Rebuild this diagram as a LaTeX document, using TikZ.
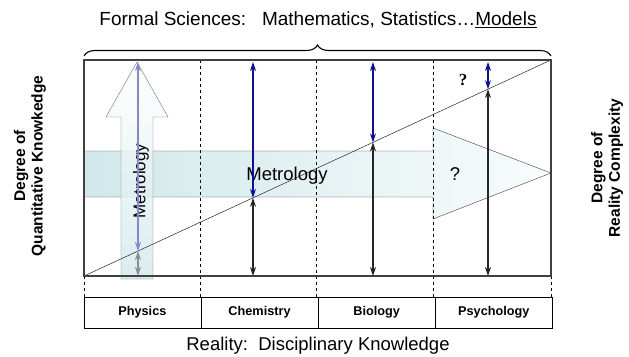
\documentclass[tikz,border=0pt]{standalone}
\usepackage{fontspec}
\setmainfont{Liberation Sans}
\newfontfamily\qfont{Liberation Serif}
\usetikzlibrary{arrows.meta,positioning,calc,decorations.pathreplacing}
\definecolor{metroteal}{rgb}{0.82,0.91,0.92}
\definecolor{arrblue}{rgb}{0.05,0.05,0.68}
\definecolor{boxgrey}{rgb}{0.25,0.25,0.25}

\begin{document}
\begin{tikzpicture}[x=1pt, y=-1pt,
  frame/.style={draw=boxgrey, line width=1.8pt},
  divider/.style={dashed, thin},
  cell/.style={rectangle, draw, thin, minimum width=116.75pt, minimum height=31pt,
               inner sep=0pt, font=\bfseries\fontsize{12.7}{15}\selectfont},
  side/.style={align=center, rotate=90, font=\bfseries\fontsize{15.5}{17.5}\selectfont},
  big/.style={font=\fontsize{18.5}{22}\selectfont},
  blu/.style={{Stealth[length=9pt,width=6pt]}-{Stealth[length=9pt,width=6pt]}, arrblue, line width=1.2pt},
  blk/.style={{Stealth[length=9pt,width=6pt]}-{Stealth[length=9pt,width=6pt]}, black!85, line width=1.2pt},
]
\useasboundingbox (0,0) rectangle (629,356);

% corners of the main frame
\coordinate (lo) at (84,276);
\coordinate (hi) at (551,60);
\coordinate (top) at (84,62);

% horizontal metrology band
\path[draw=black!75, left color=metroteal, right color=metroteal!15, thin]
  (84,151) -- (433,151) -- (433,128) -- (551,173) -- (433,219) -- (433,197) -- (84,197) -- cycle;
\node[big] (metro) at (287,176) {Metrology};
\node[big] (qmark) at (455,174) {?};

% vertical metrology arrow
\path[draw=black!55, top color=white, bottom color=metroteal, fill opacity=0.8, thin]
  (121,279) -- (121,117) -- (106,117) -- (137,62) -- (168,117) -- (153,117) -- (153,279) -- cycle;
\node[rotate=90, font=\fontsize{17}{20}\selectfont] (vmetro) at (141,181) {Metrology};

% dividers and diagonal
\foreach \x in {200,316,433}
  \draw[divider] (\x,60) -- (\x,297);
\draw[divider] (84,276) -- (84,297);
\draw[divider] (551,276) -- (551,297);
\draw[thin] (lo) -- (hi);
\draw[frame] (lo) rectangle (hi);

% disciplines
\node[cell] (phys) at (142.4,312.5) {Physics};
\node[cell, right=0pt of phys] (chem) {Chemistry};
\node[cell, right=0pt of chem] (bio) {Biology};
\node[cell, right=0pt of bio] (psy) {Psychology};

% vertical arrows
\foreach \n/\f in {1/0.1156,2/0.3619,3/0.6188,4/0.8651}
  \coordinate (d\n) at ($(lo)!\f!(hi)$);
\draw[blu, arrblue!50] (d1 |- top) -- (d1);
\draw[blk, black!45] (d1) -- (d1 |- lo);
\foreach \n in {2,3,4} {
  \draw[blu] (d\n |- top) -- (d\n);
  \draw[blk] (d\n) -- (d\n |- lo);
}
\node[font=\qfont\bfseries\fontsize{17}{19}\selectfont] (qtop) at (463,80) {?};

% labels
\draw[decorate, decoration={brace, amplitude=11pt}, line width=1.1pt] (84,56) -- (551,56);
\node[font=\fontsize{19}{22}\selectfont] (formal) at (318,20) {Formal Sciences:\ \ \ Mathematics, Statistics…\underline{Models}};
\node[big] (reality) at (318,346) {Reality:\ \ Disciplinary Knowledge};
\node[side] (quant) at (30,166) {Degree of\\Quantitative Knowkedge};
\node[side] (compl) at (607,168) {Degree of\\Reality Complexity};
\end{tikzpicture}
\end{document}
